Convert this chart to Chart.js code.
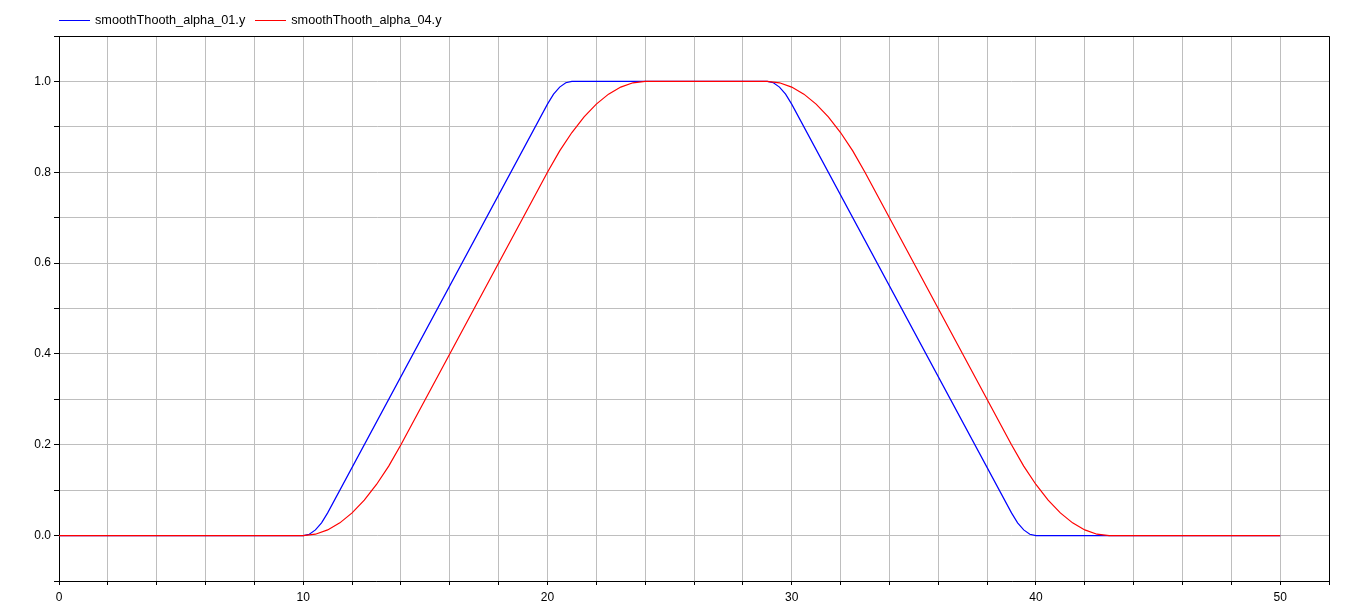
<!DOCTYPE html>
<html>
<head>
<meta charset="utf-8">
<script src="https://cdn.jsdelivr.net/npm/chart.js@4.4.1/dist/chart.umd.min.js"></script>
<style>
  html, body { margin: 0; padding: 0; background: #fff; }
  #wrap { position: relative; width: 1354px; height: 606px; }
  #legend { position: absolute; left: 59px; top: 13px; display: flex; align-items: flex-start;
            font: 12.7px/15px "Liberation Sans", Arial, sans-serif; color: #000; white-space: nowrap; }
  #legend .item { display: flex; align-items: flex-start; margin-right: 10px; }
  #legend .swatch { width: 31px; height: 1px; margin-top: 7px; margin-right: 5px; }
</style>
</head>
<body>
<div id="wrap">
  <canvas id="c"></canvas>
  <div id="legend"></div>
</div>
<script>
// ═══════════════════════════════════════════════════════════════
// DATA
// ═══════════════════════════════════════════════════════════════

const seriesNames = ['smoothThooth_alpha_01.y', 'smoothThooth_alpha_04.y'];
const seriesColors = ['#0000ff', '#ff0000'];

const blueX = [0, 10, 10.25, 10.5, 10.75, 11, 20, 20.25, 20.5, 20.75, 21,
               29, 29.25, 29.5, 29.75, 30, 39, 39.25, 39.5, 39.75, 40, 50];
const blueY = [0, 0, 0.003, 0.0125, 0.028, 0.05, 0.95, 0.972, 0.9875, 0.997, 1,
               1, 0.997, 0.9875, 0.972, 0.95, 0.05, 0.028, 0.0125, 0.003, 0, 0];

const redX = [0, 10, 10.5, 11, 11.5, 12, 12.5, 13, 13.5, 14,
              20, 20.5, 21, 21.5, 22, 22.5, 23, 23.5, 24,
              29, 29.5, 30, 30.5, 31, 31.5, 32, 32.5, 33,
              39, 39.5, 40, 40.5, 41, 41.5, 42, 42.5, 43, 50];
const redY = [0, 0, 0.003, 0.0125, 0.028, 0.05, 0.078, 0.1125, 0.153, 0.2,
              0.8, 0.847, 0.8875, 0.922, 0.95, 0.972, 0.9875, 0.997, 1,
              1, 0.997, 0.9875, 0.972, 0.95, 0.922, 0.8875, 0.847, 0.8,
              0.2, 0.153, 0.1125, 0.078, 0.05, 0.028, 0.0125, 0.003, 0, 0];

const xTickLabels = [0, 10, 20, 30, 40, 50];
const yTickLabels = ['0.0', '0.2', '0.4', '0.6', '0.8', '1.0'];

// ═══════════════════════════════════════════════════════════════
// CHART
// ═══════════════════════════════════════════════════════════════

const toPoints = (xs, ys) => xs.map((x, i) => ({ x, y: ys[i] }));

// top + right border of the plot box
const frame = {
  id: 'frame',
  afterDraw(chart) {
    const { ctx, chartArea: a } = chart;
    ctx.save();
    ctx.strokeStyle = '#000';
    ctx.lineWidth = 1;
    ctx.beginPath();
    ctx.moveTo(Math.round(a.left) + 0.5, Math.round(a.top) + 0.5);
    ctx.lineTo(Math.round(a.right) + 0.5, Math.round(a.top) + 0.5);
    ctx.lineTo(Math.round(a.right) + 0.5, Math.round(a.bottom) + 0.5);
    ctx.stroke();
    ctx.restore();
  }
};

Chart.defaults.font.family = '"Liberation Sans", Arial, sans-serif';
Chart.defaults.font.size = 12;
Chart.defaults.color = '#000';

const chart = new Chart(document.getElementById('c'), {
  type: 'line',
  data: {
    datasets: [
      { label: seriesNames[0], data: toPoints(blueX, blueY), borderColor: seriesColors[0], order: 1 },
      { label: seriesNames[1], data: toPoints(redX, redY), borderColor: seriesColors[1], order: 0 }
    ]
  },
  options: {
    responsive: true,
    maintainAspectRatio: false,
    animation: false,
    layout: { padding: { top: 36, right: 25, left: 0, bottom: 0 } },
    elements: {
      point: { radius: 0 },
      line: { borderWidth: 1.2, tension: 0, fill: false }
    },
    plugins: { legend: { display: false }, tooltip: { enabled: false } },
    scales: {
      x: {
        type: 'linear', min: 0, max: 52,
        afterFit: (s) => { s.height = 25; },
        grid: { color: '#bebebe', tickColor: '#000', tickLength: 4 },
        border: { color: '#000' },
        ticks: {
          stepSize: 2, autoSkip: false, maxRotation: 0, padding: 5,
          callback: (v) => xTickLabels.includes(v) ? String(v) : ''
        }
      },
      y: {
        min: -0.1, max: 1.1,
        afterFit: (s) => { s.width = 59; },
        grid: { color: '#bebebe', tickColor: '#000', tickLength: 5 },
        border: { color: '#000' },
        ticks: {
          stepSize: 0.1, autoSkip: false, padding: 3,
          callback: (v) => {
            const t = (Math.round(v * 10) / 10).toFixed(1);
            return yTickLabels.includes(t) ? t : '';
          }
        }
      }
    }
  },
  plugins: [frame]
});

// html legend
const legend = document.getElementById('legend');
seriesNames.forEach((name, i) => {
  const item = document.createElement('div');
  item.className = 'item';
  const sw = document.createElement('span');
  sw.className = 'swatch';
  sw.style.background = seriesColors[i];
  const txt = document.createElement('span');
  txt.textContent = name;
  item.appendChild(sw);
  item.appendChild(txt);
  legend.appendChild(item);
});
</script>
</body>
</html>
